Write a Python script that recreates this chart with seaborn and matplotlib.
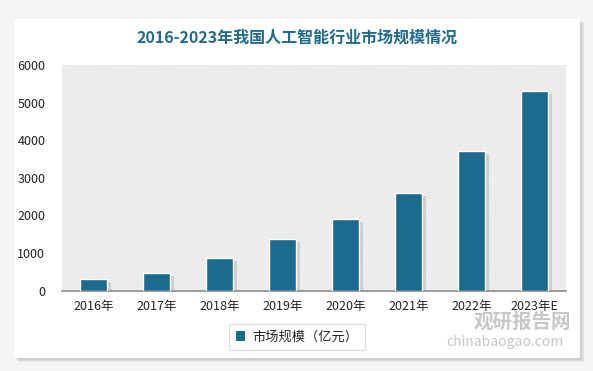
import matplotlib
matplotlib.use("Agg")
import matplotlib.pyplot as plt
import matplotlib.patheffects as pe
from matplotlib.patches import Rectangle, Patch
import seaborn as sns
import pandas as pd

# --- DATA ---
years = ["2016年", "2017年", "2018年", "2019年", "2020年", "2021年", "2022年", "2023年E"]
market_size = [310, 470, 870, 1375, 1895, 2585, 3700, 5315]
title = "2016-2023年我国人工智能行业市场规模情况"
legend_label = "市场规模（亿元）"

BAR = "#1c6a8e"
W, H = 593, 371

sns.set_theme(style="white")
plt.rcParams["font.family"] = ["Noto Sans CJK SC", "DejaVu Sans"]
plt.rcParams["hatch.linewidth"] = 0.7
plt.rcParams["hatch.color"] = "#dadada"

df = pd.DataFrame({"year": years, "size": market_size})

fig = plt.figure(figsize=(W / 100, H / 100), dpi=100)
fig.patch.set_facecolor("#f4f4f4")

# card background with soft shadow
for i in range(3):
    fig.patches.append(Rectangle(((14 + 2 + i) / W, (H - 358 - 2 - i) / H), 566 / W, 339 / H,
                                 transform=fig.transFigure, facecolor="#000000", alpha=0.05,
                                 edgecolor="none", zorder=0))
fig.patches.append(Rectangle((14 / W, (H - 358) / H), 566 / W, 339 / H,
                             transform=fig.transFigure, facecolor="white",
                             edgecolor="none", zorder=1))

ax = fig.add_axes([62 / W, (H - 290.5) / H, 504 / W, 225.5 / H])
ax.set_facecolor("none")
ax.set_zorder(2)

# hatched plot area
ax.add_patch(Rectangle((0, 0), 1, 1, transform=ax.transAxes, facecolor="white",
                       hatch="\\" * 12, edgecolor="#dadada", linewidth=0, zorder=0))

sns.barplot(data=df, x="year", y="size", color=BAR, width=0.43, saturation=1,
            edgecolor="white", linewidth=1.0, ax=ax, zorder=3)
for p in ax.patches[1:]:
    p.set_path_effects([pe.SimplePatchShadow(offset=(3, -2), shadow_rgbFace="#888888", alpha=0.3),
                        pe.Normal()])

ax.set_ylim(0, 6000)
ax.set_yticks(range(0, 6001, 1000))
ax.set_xlim(-0.5, len(years) - 0.5)
ax.set_xlabel("")
ax.set_ylabel("")
for s in ["top", "right", "left"]:
    ax.spines[s].set_visible(False)
ax.spines["bottom"].set_color("#8c8c8c")
ax.spines["bottom"].set_linewidth(1.2)
ax.tick_params(axis="both", length=0, labelsize=9, colors="#222222")
ax.tick_params(axis="x", pad=7)
ax.tick_params(axis="y", pad=12)

fig.text(297 / W, 1 - 38 / H, title, ha="center", va="center", fontsize=11.5,
         fontweight="bold", color="#1f6a8d", zorder=5)

leg = fig.legend(handles=[Patch(facecolor=BAR, edgecolor="none", label=legend_label)],
                 loc="center", bbox_to_anchor=(297 / W, 1 - 337 / H), fontsize=9.5,
                 frameon=True, fancybox=False, handlelength=0.7, handleheight=0.7,
                 handletextpad=0.5, borderpad=0.5)
leg.get_frame().set_edgecolor("#d9d9d9")
leg.get_frame().set_linewidth(1.0)

# watermark
fig.text(522 / W, 1 - 322 / H, "观研报告网", ha="center", va="center", fontsize=14,
         fontweight="bold", color="#9a9a9a", alpha=0.55, zorder=6)
fig.text(505 / W, 1 - 342 / H, "chinabaogao.com", ha="center", va="center", fontsize=10,
         color="#9a9a9a", alpha=0.55, zorder=6)

fig.savefig("out.png", dpi=100)
